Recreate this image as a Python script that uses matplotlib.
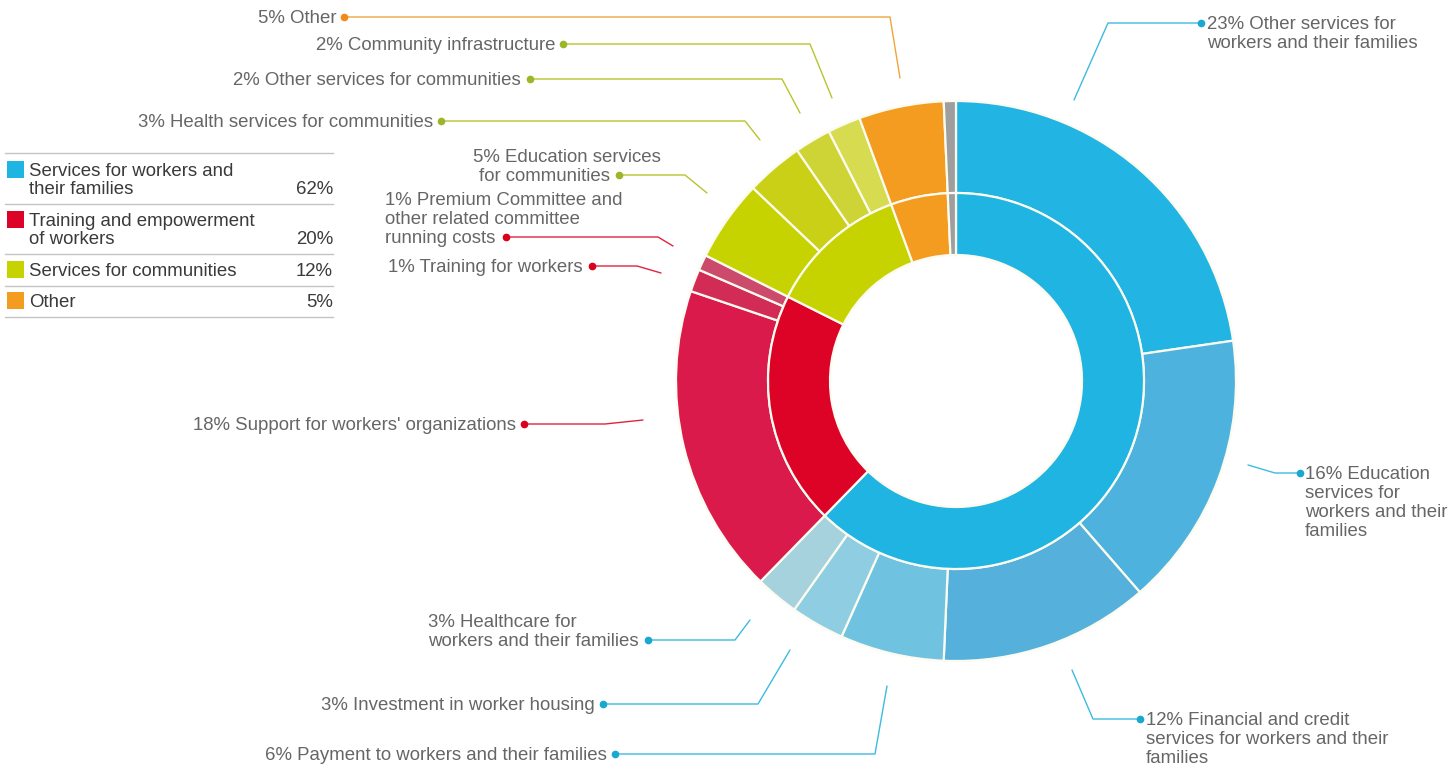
import matplotlib
matplotlib.use("Agg")
import matplotlib.pyplot as plt

# ---------------- data ----------------
inner_labels = ["Services for workers and\ntheir families", "Training and empowerment\nof workers",
                "Services for communities", "Other", "Unallocated"]
inner_values = [62.3, 20.1, 12.0, 4.9, 0.7]
legend_pct = ["62%", "20%", "12%", "5%"]

outer_labels = [
    "23% Other services for\nworkers and their families",
    "16% Education\nservices for\nworkers and their\nfamilies",
    "12% Financial and credit\nservices for workers and their\nfamilies",
    "6% Payment to workers and their families",
    "3% Investment in worker housing",
    "3% Healthcare for\nworkers and their families",
    "18% Support for workers' organizations",
    "1% Training for workers",
    "1% Premium Committee and\nother related committee\nrunning costs",
    "5% Education services\nfor communities",
    "3% Health services for communities",
    "2% Other services for communities",
    "2% Community infrastructure",
    "5% Other",
    "",
]
outer_values = [22.7, 15.9, 12.1, 6.0, 3.1, 2.5, 17.9, 1.3, 0.9, 4.7, 3.3, 2.1, 1.9, 4.9, 0.7]
outer_group = [0, 0, 0, 0, 0, 0, 1, 1, 1, 2, 2, 2, 2, 3, 4]

# ---------------- styles ----------------
inner_colors = ["#1fb4e2", "#dc0326", "#c6d300", "#f39c1f", "#9e9e9e"]
outer_colors = ["#22b5e3", "#4db3de", "#55b0dc", "#70c3e0", "#8fcde2", "#a6d2de",
                "#da1a4b", "#d22b56", "#cc4a6b",
                "#c6d300", "#c9d016", "#ced435", "#d6db50",
                "#f39c1f", "#9e9e9e"]
line_colors = ["#3dbbe0", "#e0233f", "#b7c52c", "#f0a43c"]
dot_colors = ["#18a8d0", "#d9001b", "#9cb62a", "#f08a18"]

W, H = 1456, 769
CX, CY = 956, 381          # pixel centre (y from top)
R_OUT, R_MID, R_HOLE = 280, 188, 126

plt.rcParams['font.family'] = ['Liberation Sans', 'DejaVu Sans']
fig = plt.figure(figsize=(W / 100, H / 100), dpi=100)
ax = fig.add_axes([0, 0, 1, 1])

ax.pie(outer_values, radius=R_OUT, center=(CX, H - CY), startangle=90, counterclock=False,
       colors=outer_colors,
       wedgeprops=dict(width=R_OUT - R_MID, edgecolor="#fbfbf0", linewidth=1.6))
ax.pie(inner_values, radius=R_MID, center=(CX, H - CY), startangle=90, counterclock=False,
       colors=inner_colors,
       wedgeprops=dict(width=R_MID - R_HOLE, edgecolor="#fbfbf0", linewidth=1.6))

ax.set_xlim(0, W)
ax.set_ylim(0, H)
ax.set_aspect("equal")
ax.set_axis_off()

TOFF = 1.2  # small downward shift of text centres (px)


def Y(y):
    return H - y


def TY(y):
    return H - y - TOFF


# leader layout: (polyline from slice to dot in pixel coords, text x, text align, anchor)
leaders = [
    ([(1074, 100), (1108, 23), (1201, 23)], 1207, "left", "top"),
    ([(1248, 465), (1275, 473), (1300, 473)], 1305, "left", "top"),
    ([(1072, 670), (1093, 719), (1140, 719)], 1146, "left", "top"),
    ([(887, 686), (875, 754), (615, 754)], 607, "right", "last"),
    ([(790, 650), (758, 704), (603, 704)], 595, "right", "last"),
    ([(750, 620), (735, 640), (648, 640)], 639, "right", "last"),
    ([(643, 420), (605, 424), (524, 424)], 516, "right", "last"),
    ([(661, 273), (637, 266), (592, 266)], 583, "right", "last"),
    ([(673, 246), (658, 237), (506, 237)], 385, "leftblock", "last"),
    ([(707, 193), (685, 175), (619, 175)], 610, "split", "last"),
    ([(760, 140), (745, 121), (441, 121)], 433, "right", "last"),
    ([(800, 113), (782, 79), (530, 79)], 521, "right", "last"),
    ([(832, 98), (810, 44), (563, 44)], 555, "right", "last"),
    ([(900, 78), (890, 17), (344, 17)], 336, "right", "last"),
]

FS = 13.4
LH = 19  # line height in px
TXT = "#666666"
fig.canvas.draw()
for i, (pts, tx, align, anchor) in enumerate(leaders):
    g = outer_group[i]
    xs = [p[0] for p in pts]
    ys = [Y(p[1]) for p in pts]
    ax.plot(xs, ys, color=line_colors[g], lw=1.0, solid_capstyle="round", zorder=3)
    ax.plot(xs[-1], ys[-1], "o", ms=4.5, color=dot_colors[g], zorder=4)
    lines = outer_labels[i].split("\n")
    dy = pts[-1][1]
    y0 = dy if anchor == "top" else dy - LH * (len(lines) - 1)
    if align == "split":
        # two-line label, each line right aligned separately as in the reference
        ax.text(tx + 51, TY(y0), lines[0], ha="right", va="center", fontsize=FS, color=TXT)
        ax.text(tx, TY(y0 + LH), lines[1], ha="right", va="center", fontsize=FS, color=TXT)
    elif align in ("left", "leftblock"):
        for k, ln in enumerate(lines):
            ax.text(tx, TY(y0 + k * LH), ln, ha="left", va="center", fontsize=FS, color=TXT)
    elif len(lines) == 1:
        ax.text(tx, TY(y0), lines[0], ha="right", va="center", fontsize=FS, color=TXT)
    else:
        # left-aligned block whose last line ends at the dot
        t = ax.text(tx, TY(y0 + (len(lines) - 1) * LH), lines[-1], ha="right", va="center",
                    fontsize=FS, color=TXT, alpha=0)
        bb = t.get_window_extent(renderer=fig.canvas.get_renderer()).transformed(ax.transData.inverted())
        t.remove()
        for k, ln in enumerate(lines):
            ax.text(bb.x0, TY(y0 + k * LH), ln, ha="left", va="center", fontsize=FS, color=TXT)

# ---------------- legend ----------------
LEG_X0, LEG_X1 = 5, 333
sep_y = [153, 204, 254, 286, 317]
row_y = [(170, 188), (220, 238), (270, 270), (301, 301)]
for y in sep_y:
    ax.plot([LEG_X0, LEG_X1], [Y(y), Y(y)], color="#c4c4c4", lw=1.0)
for j in range(4):
    y1, y2 = row_y[j]
    ax.add_patch(plt.Rectangle((7, Y(y1 + 8)), 17, 17, color=inner_colors[j], lw=0))
    ls = inner_labels[j].split("\n")
    for k, ln in enumerate(ls):
        ax.text(29, TY(y1 + k * 18), ln, ha="left", va="center", fontsize=FS, color="#3a3a3a")
    ax.text(LEG_X1, TY(y2), legend_pct[j], ha="right", va="center", fontsize=FS, color="#3a3a3a")

fig.savefig("out.png", dpi=100, facecolor="white")
